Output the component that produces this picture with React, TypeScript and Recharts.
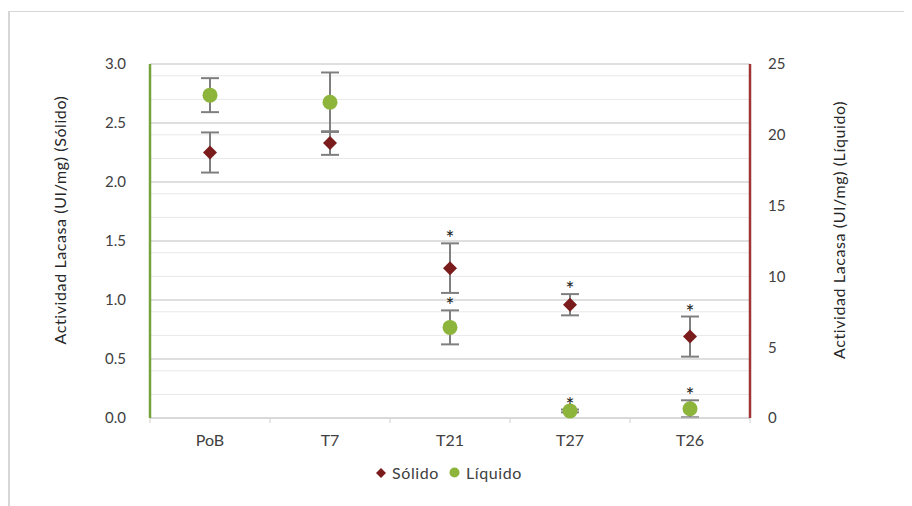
import React from "react";
import {
	CartesianGrid,
	ComposedChart,
	ErrorBar,
	Legend,
	Scatter,
	XAxis,
	YAxis,
} from "recharts";

const categories = ["PoB", "T7", "T21", "T27", "T26"];
const solido = [2.25, 2.33, 1.27, 0.96, 0.69];
const solidoErr = [0.17, 0.1, 0.21, 0.09, 0.17];
const liquido = [22.8, 22.3, 6.4, 0.5, 0.65];
const liquidoErr = [1.2, 2.1, 1.2, 0.1, 0.6];
const significant = [false, false, true, true, true];

const leftTicks = [0, 0.5, 1, 1.5, 2, 2.5, 3];
const rightTicks = [0, 5, 10, 15, 20, 25];
const minorLines = [
	0.1, 0.2, 0.3, 0.4, 0.6, 0.7, 0.8, 0.9, 1.1, 1.2, 1.3, 1.4, 1.6, 1.7, 1.8,
	1.9, 2.1, 2.2, 2.3, 2.4, 2.6, 2.7, 2.8, 2.9,
];

const data = categories.map((name, i) => ({
	name,
	sol: solido[i],
	solErr: solidoErr[i],
	liq: liquido[i],
	liqErr: liquidoErr[i],
	sig: significant[i],
	solTop: solido[i] + solidoErr[i],
	liqTop: liquido[i] + liquidoErr[i],
}));

const FONT = "Lato, 'Open Sans', sans-serif";
const RED = "#7b1c1c";
const GREEN = "#8db53c";
const HALF_BAND = 60;

const Diamond = (props: any) => {
	const { cx, cy } = props;
	if (!Number.isFinite(cx) || !Number.isFinite(cy)) return null;
	const r = 7;
	return (
		<path
			d={`M${cx},${cy - r}L${cx + r},${cy}L${cx},${cy + r}L${cx - r},${cy}Z`}
			fill={RED}
		/>
	);
};

const Dot = (props: any) => {
	const { cx, cy } = props;
	if (!Number.isFinite(cx) || !Number.isFinite(cy)) return null;
	return <circle cx={cx} cy={cy} r={7.5} fill={GREEN} />;
};

const Star = (props: any) => {
	const { cx, cy, payload } = props;
	if (!payload?.sig || !Number.isFinite(cy)) return null;
	return (
		<text
			x={cx}
			y={cy + 3}
			textAnchor="middle"
			fontSize={21}
			fontFamily={FONT}
			fill="#222"
		>
			*
		</text>
	);
};

const XTick = (props: any) => {
	const { x, y, payload, index } = props;
	return (
		<g>
			<line x1={x - HALF_BAND} x2={x - HALF_BAND} y1={y} y2={y + 5} stroke="#cfcfcf" />
			{index === categories.length - 1 && (
				<line x1={x + HALF_BAND} x2={x + HALF_BAND} y1={y} y2={y + 5} stroke="#cfcfcf" />
			)}
			<text
				x={x}
				y={y + 28}
				textAnchor="middle"
				fontSize={16}
				fontFamily={FONT}
				fill="#404040"
			>
				{payload.value}
			</text>
		</g>
	);
};

const LegendContent = () => (
	<div
		style={{
			display: "flex",
			justifyContent: "center",
			alignItems: "center",
			gap: 6,
			fontFamily: FONT,
			fontSize: 16,
			letterSpacing: 0.6,
			color: "#404040",
			paddingRight: 14,
		}}
	>
		<svg width={10} height={10}>
			<path d="M5,0L10,5L5,10L0,5Z" fill={RED} />
		</svg>
		<span style={{ marginRight: 4 }}>Sólido</span>
		<svg width={11} height={11}>
			<circle cx={5.5} cy={5.5} r={5} fill={GREEN} />
		</svg>
		<span>Líquido</span>
	</div>
);

const axisTitle = (text: string, x: number, y: number, angle: number) => () => (
	<text
		x={x}
		y={y}
		transform={`rotate(${angle} ${x} ${y})`}
		textAnchor="middle"
		fontSize={16}
		letterSpacing={0.6}
		fontFamily={FONT}
		fill="#262626"
	>
		{text}
	</text>
);

export default function App() {
	return (
		<div style={{ position: "relative", width: 896, height: 498 }}>
			<div
				style={{
					position: "absolute",
					left: 0,
					top: 3,
					width: 896,
					height: 495,
					borderTop: "1px solid #d6d6d6",
					borderLeft: "2px solid #d6d6d6",
				}}
			/>
			<ComposedChart
				width={896}
				height={490}
				data={data}
				margin={{ top: 56, right: 0, bottom: 0, left: 0 }}
				style={{ position: "absolute", left: 0, top: 0 }}
			>
				<CartesianGrid
					yAxisId="left"
					vertical={false}
					horizontalValues={minorLines}
					stroke="#e8e8e8"
				/>
				<CartesianGrid
					yAxisId="left"
					vertical={false}
					horizontalValues={leftTicks}
					stroke="#d4d4d4"
					strokeWidth={1.5}
				/>
				<XAxis
					dataKey="name"
					height={80}
					padding={{ left: HALF_BAND, right: HALF_BAND }}
					axisLine={{ stroke: "#d4d4d4" }}
					tickLine={false}
					tickSize={0}
					tickMargin={0}
					tick={<XTick />}
					interval={0}
				/>
				<YAxis
					yAxisId="left"
					width={142}
					domain={[0, 3]}
					ticks={leftTicks}
					tickFormatter={(v: number) => v.toFixed(1)}
					axisLine={{ stroke: "#76a23c", strokeWidth: 2.5 }}
					tickLine={false}
					tickSize={0}
					tickMargin={24}
					tick={{ fontSize: 15, fontFamily: FONT, fill: "#404040" }}
					label={{ content: axisTitle("Actividad Lacasa (UI/mg) (Sólido)", 58, 212, -90) }}
				/>
				<YAxis
					yAxisId="right"
					orientation="right"
					width={154}
					domain={[0, 25]}
					ticks={rightTicks}
					axisLine={{ stroke: "#a03434", strokeWidth: 2.5 }}
					tickLine={false}
					tickSize={0}
					tickMargin={18}
					tick={{ fontSize: 15, fontFamily: FONT, fill: "#404040", textAnchor: "start" }}
					label={{ content: axisTitle("Actividad Lacasa (UI/mg) (Líquido)", 837, 222, -90) }}
				/>
				<Scatter
					yAxisId="left"
					dataKey="sol"
					name="Sólido"
					shape={<Diamond />}
					isAnimationActive={false}
				>
					<ErrorBar dataKey="solErr" direction="y" width={9} strokeWidth={2} stroke="#7f7f7f" />
				</Scatter>
				<Scatter
					yAxisId="right"
					dataKey="liq"
					name="Líquido"
					shape={<Dot />}
					isAnimationActive={false}
				>
					<ErrorBar dataKey="liqErr" direction="y" width={9} strokeWidth={2} stroke="#7f7f7f" />
				</Scatter>
				<Scatter
					yAxisId="left"
					dataKey="solTop"
					shape={<Star />}
					legendType="none"
					isAnimationActive={false}
				/>
				<Scatter
					yAxisId="right"
					dataKey="liqTop"
					shape={<Star />}
					legendType="none"
					isAnimationActive={false}
				/>
				<Legend
					layout="horizontal"
					verticalAlign="middle"
					align="center"
					content={<LegendContent />}
					wrapperStyle={{ top: 455, left: 0, width: 896 }}
				/>
			</ComposedChart>
		</div>
	);
}
